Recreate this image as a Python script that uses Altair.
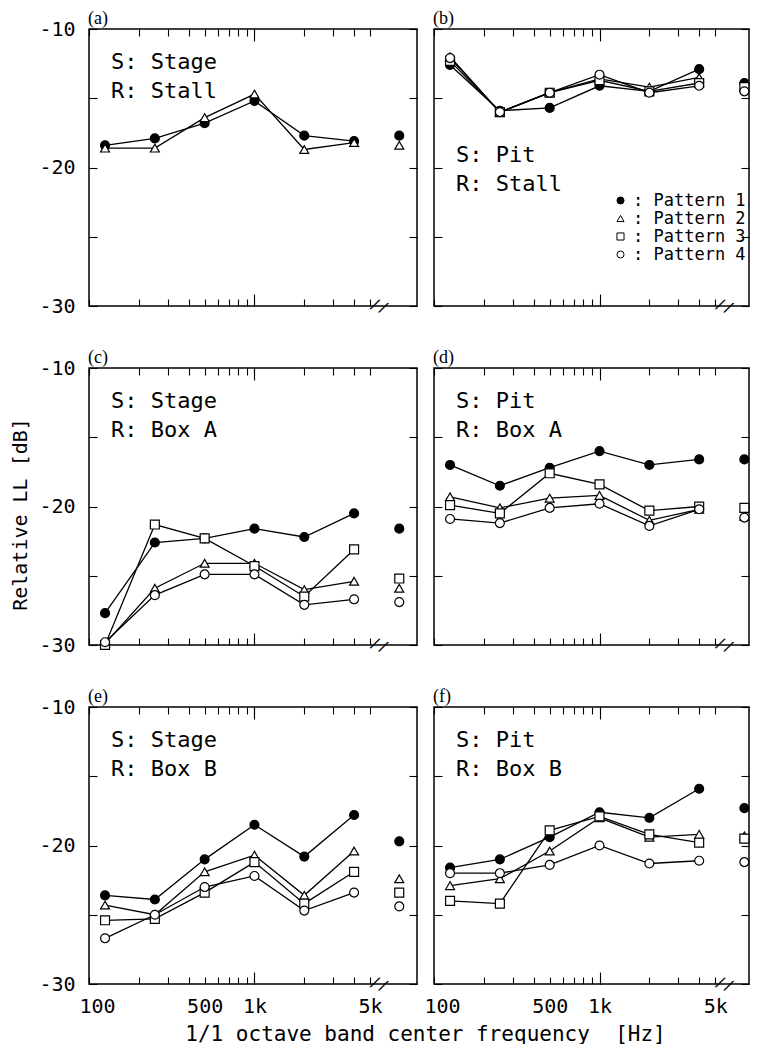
import altair as alt
import pandas as pd

# ---------------- data ----------------
band_labels = ["125", "250", "500", "1k", "2k", "4k", "All"]
band_freqs = [125, 250, 500, 1000, 2000, 4000, 7500]   # "All" = overall value, drawn right of the axis break
pattern_names = ["Pattern 1", "Pattern 2", "Pattern 3", "Pattern 4"]

# (a) S: Stage  R: Stall
a_p1 = [-18.4, -17.9, -16.8, -15.2, -17.7, -18.1, -17.7]
a_p2 = [-18.6, -18.6, -16.4, -14.7, -18.7, -18.2, -18.4]
# (b) S: Pit  R: Stall
b_p1 = [-12.6, -15.9, -15.7, -14.1, -14.5, -12.9, -13.9]
b_p2 = [-12.0, -16.0, -14.6, -13.6, -14.2, -13.5, -14.2]
b_p3 = [-12.3, -16.0, -14.6, -13.7, -14.5, -13.9, -14.2]
b_p4 = [-12.1, -16.0, -14.6, -13.3, -14.6, -14.1, -14.5]
# (c) S: Stage  R: Box A
c_p1 = [-27.7, -22.6, -22.3, -21.6, -22.2, -20.5, -21.6]
c_p2 = [-29.9, -25.9, -24.1, -24.1, -26.0, -25.4, -25.9]
c_p3 = [-30.0, -21.3, -22.3, -24.3, -26.5, -23.1, -25.2]
c_p4 = [-29.8, -26.4, -24.9, -24.9, -27.1, -26.7, -26.9]
# (d) S: Pit  R: Box A
d_p1 = [-17.0, -18.5, -17.2, -16.0, -17.0, -16.6, -16.6]
d_p2 = [-19.3, -20.1, -19.4, -19.2, -21.0, -20.2, -20.7]
d_p3 = [-19.9, -20.5, -17.6, -18.4, -20.3, -20.0, -20.1]
d_p4 = [-20.9, -21.2, -20.1, -19.8, -21.4, -20.2, -20.8]
# (e) S: Stage  R: Box B
e_p1 = [-23.6, -23.9, -21.0, -18.5, -20.8, -17.8, -19.7]
e_p2 = [-24.3, -25.0, -21.9, -20.7, -23.6, -20.4, -22.4]
e_p3 = [-25.4, -25.3, -23.4, -21.2, -24.2, -21.9, -23.4]
e_p4 = [-26.7, -25.0, -23.0, -22.2, -24.7, -23.4, -24.4]
# (f) S: Pit  R: Box B
f_p1 = [-21.6, -21.0, -19.4, -17.6, -18.0, -15.9, -17.3]
f_p2 = [-22.9, -22.4, -20.4, -18.0, -19.4, -19.2, -19.3]
f_p3 = [-24.0, -24.2, -18.9, -17.9, -19.2, -19.8, -19.5]
f_p4 = [-22.0, -22.0, -21.4, -20.0, -21.3, -21.1, -21.2]

panel_keys = ["a", "b", "c", "d", "e", "f"]
panel_series = {
    "a": [a_p1, a_p2, None, None],
    "b": [b_p1, b_p2, b_p3, b_p4],
    "c": [c_p1, c_p2, c_p3, c_p4],
    "d": [d_p1, d_p2, d_p3, d_p4],
    "e": [e_p1, e_p2, e_p3, e_p4],
    "f": [f_p1, f_p2, f_p3, f_p4],
}
panel_notes = {
    "a": "S: Stage\nR: Stall",
    "b": "S: Pit\nR: Stall",
    "c": "S: Stage\nR: Box A",
    "d": "S: Pit\nR: Box A",
    "e": "S: Stage\nR: Box B",
    "f": "S: Pit\nR: Box B",
}

x_ticks = [100, 200, 300, 400, 500, 600, 700, 800, 900, 1000, 2000, 3000, 4000, 5000]
x_major = [1000]
y_ticks = [-30, -25, -20, -15, -10]
break_freq = [5700]
break_level = [-30]

x_title = "1/1 octave band center frequency \u00a0[Hz]"
y_title = "Relative LL [dB]"

# ---------------- tables ----------------
rows = []
for key in panel_keys:
    for pname, series in zip(pattern_names, panel_series[key]):
        if series is None:
            continue
        for band, fq, v in zip(band_labels, band_freqs, series):
            rows.append({"panel": key, "pattern": pname, "band": band, "freq": fq, "level": v})
df = pd.DataFrame(rows)
notes_df = pd.DataFrame({
    "panel": panel_keys,
    "note": [panel_notes[k] for k in panel_keys],
    "letter": [f"({k})" for k in panel_keys],
})
brk_df = pd.DataFrame({"freq": break_freq, "level": break_level})

MONO = "DejaVu Sans Mono"
# left column shows up to ~9.6 kHz; the right column is cut a little narrower by the page edge
col_width = [328, 315]
col_xmax = [9600, 8000]
yscale = alt.Scale(domain=[-30, -10], nice=False, zero=False)
H = 277

legend = alt.Legend(
    orient="none", legendX=523, legendY=163, title=None,
    labelFont=MONO, labelFontSize=17, labelColor="black",
    labelExpr="': ' + datum.label",
    symbolSize=50, symbolStrokeWidth=1,
    rowPadding=0, labelOffset=4, padding=0,
)
shape_enc = alt.Shape("pattern:N", scale=alt.Scale(domain=pattern_names,
                      range=["circle", "triangle-up", "square", "circle"]), legend=legend)
fill_enc = alt.Fill("pattern:N", scale=alt.Scale(domain=pattern_names,
                    range=["black", "white", "white", "white"]), legend=legend)
stroke_enc = alt.Stroke("pattern:N", scale=alt.Scale(domain=pattern_names,
                        range=["black", "black", "black", "black"]), legend=legend)

x_label_expr = ("datum.value == 100 ? '100' : datum.value == 500 ? '500' : "
                "datum.value == 1000 ? '1k' : datum.value == 5000 ? '5k' : ''")
y_label_expr = "datum.value % 10 == 0 ? '-' + abs(datum.value) : ''"


def make_panel(key, col, row):
    show_x = row == 2
    show_y = col == 0
    xscale = alt.Scale(type="log", domain=[100, col_xmax[col]], nice=False)
    ax_common = dict(domain=False, grid=False, tickColor="black", tickWidth=1.1)

    xb_axis = alt.Axis(
        orient="bottom", values=x_ticks, tickSize=7, offset=-7, labels=show_x,
        labelExpr=x_label_expr, labelFont=MONO, labelFontSize=20, labelColor="black",
        labelPadding=12, labelFlush=False, labelOverlap=False,
        labelOffset={"condition": {"test": "datum.value == 100", "value": 8}, "value": 0},
        title=x_title if key == "e" else None,
        titleFont=MONO, titleFontSize=21, titleFontWeight="normal", titleColor="black",
        titleX=336, titleY=46, titleAlign="center", titleBaseline="top",
        **ax_common)
    yl_axis = alt.Axis(
        orient="left", values=y_ticks, tickSize=8, offset=-8, labels=show_y,
        labelExpr=y_label_expr, labelFont=MONO, labelFontSize=20, labelColor="black",
        labelPadding=14, labelOverlap=False,
        title=y_title if key == "c" else None,
        titleFont=MONO, titleFontSize=20, titleFontWeight="normal", titleColor="black",
        titleX=-77, titleY=146, titleAlign="center", titleBaseline="middle", titleAngle=270,
        **ax_common)
    xt_axis = alt.Axis(orient="top", values=x_ticks, tickSize=7, offset=-7, labels=False,
                       title=None, **ax_common)
    yr_axis = alt.Axis(orient="right", values=y_ticks, tickSize=8, offset=-8, labels=False,
                       title=None, **ax_common)
    xb_major = alt.Axis(orient="bottom", values=x_major, tickSize=12, offset=-12, labels=False,
                        title=None, **ax_common)
    xt_major = alt.Axis(orient="top", values=x_major, tickSize=12, offset=-12, labels=False,
                        title=None, **ax_common)

    sel = f"datum.panel == '{key}'"

    lines = alt.Chart(df).transform_filter(sel).transform_filter("datum.band != 'All'").mark_line(
        color="black", strokeWidth=1.3
    ).encode(
        x=alt.X("freq:Q", scale=xscale, axis=xb_axis),
        y=alt.Y("level:Q", scale=yscale, axis=yl_axis),
        detail="pattern:N",
    )
    points = alt.Chart(df).transform_filter(sel).mark_point(
        filled=True, strokeWidth=1.2, size=80, opacity=1
    ).encode(
        x=alt.X("freq:Q", scale=xscale, axis=xt_axis),
        y=alt.Y("level:Q", scale=yscale, axis=yr_axis),
        shape=shape_enc,
        fill=fill_enc,
        stroke=stroke_enc,
    )
    brk = alt.Chart(brk_df).mark_text(
        text="//", font=MONO, fontSize=15, angle=20, color="black", baseline="middle", align="center"
    ).encode(
        x=alt.X("freq:Q", scale=xscale, axis=xb_major),
        y=alt.Y("level:Q", scale=yscale, axis=None),
    )
    brk_top = alt.Chart(brk_df).mark_point(opacity=0).encode(
        x=alt.X("freq:Q", scale=xscale, axis=xt_major),
        y=alt.Y("level:Q", scale=yscale, axis=None),
    )
    note_y = 133 if key == "b" else 40
    notes = alt.Chart(notes_df).transform_filter(sel).mark_text(
        align="left", baseline="alphabetic", font=MONO, fontSize=22, color="black",
        lineBreak="\n", lineHeight=29,
    ).encode(text="note:N", x=alt.value(22), y=alt.value(note_y))
    letter = alt.Chart(notes_df).transform_filter(sel).mark_text(
        align="left", baseline="alphabetic", font="Liberation Serif", fontSize=18, color="black",
    ).encode(text="letter:N", x=alt.value(-1), y=alt.value(-5))

    return alt.layer(lines, points, brk, brk_top, notes, letter).resolve_axis(
        x="independent", y="independent"
    ).properties(width=col_width[col], height=H)


panels = [make_panel(k, i % 2, i // 2) for i, k in enumerate(panel_keys)]

chart = alt.concat(
    *panels, columns=2, spacing={"row": 62, "column": 17}, bounds="flush"
).properties(
    autosize=alt.AutoSizeParams(type="none"),
    padding={"left": 81, "top": 21, "right": 661, "bottom": 1015},
).configure_view(stroke="black", strokeWidth=1.5)

chart.save("out.html", embed_options={"renderer": "svg", "actions": False})
